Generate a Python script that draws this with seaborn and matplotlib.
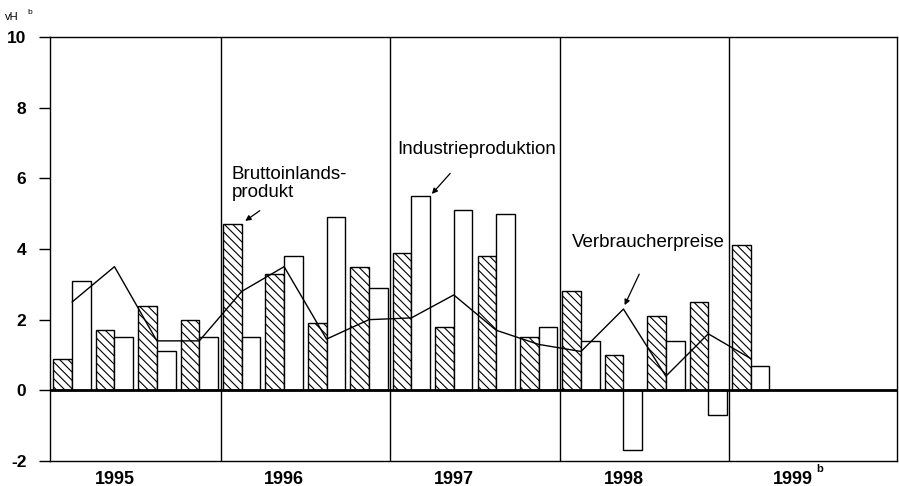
import numpy as np
import pandas as pd
import matplotlib
matplotlib.use("Agg")
import matplotlib.pyplot as plt
import matplotlib.transforms as mtrans
import seaborn as sns

# Quartale 1995 Q1 bis 1999 Q1, Veraenderung in vH
quartale = ["95Q1", "95Q2", "95Q3", "95Q4",
            "96Q1", "96Q2", "96Q3", "96Q4",
            "97Q1", "97Q2", "97Q3", "97Q4",
            "98Q1", "98Q2", "98Q3", "98Q4",
            "99Q1"]
bip = [0.9, 1.7, 2.4, 2.0, 4.7, 3.3, 1.9, 3.5, 3.9, 1.8, 3.8, 1.5, 2.8, 1.0, 2.1, 2.5, 4.1]
industrie = [3.1, 1.5, 1.1, 1.5, 1.5, 3.8, 4.9, 2.9, 5.5, 5.1, 5.0, 1.8, 1.4, -1.7, 1.4, -0.7, 0.7]
preise = [2.5, 3.5, 1.4, 1.4, 2.8, 3.5, 1.45, 2.0, 2.05, 2.7, 1.7, 1.3, 1.1, 2.3, 0.4, 1.6, 0.9]

jahre = ["1995", "1996", "1997", "1998", "1999"]
jahr_pos = [1, 5, 9, 13, 17]
jahr_grenzen = [3.5, 7.5, 11.5, 15.5]

sns.set_style("ticks")
plt.rcParams["font.family"] = ["Liberation Sans", "DejaVu Sans"]
plt.rcParams["hatch.linewidth"] = 0.8
plt.rcParams["axes.unicode_minus"] = False
plt.rcParams["text.color"] = "black"

df = pd.DataFrame({
    "q": list(range(len(quartale))) * 2,
    "wert": bip + industrie,
    "reihe": ["BIP"] * len(bip) + ["IP"] * len(industrie),
})

fig, ax = plt.subplots(figsize=(8.99, 4.86), dpi=100)
fig.subplots_adjust(left=50 / 899, right=897 / 899, top=1 - 37 / 486, bottom=1 - 461 / 486)

sns.barplot(data=df, x="q", y="wert", hue="reihe", width=0.88, dodge=True,
            palette={"BIP": "white", "IP": "white"}, edgecolor="black",
            linewidth=1.0, legend=False, ax=ax, errorbar=None)
for bar in ax.containers[0]:
    bar.set_hatch("\\\\\\\\")

# Verbraucherpreise als Linie (Punkte zwischen den Balken)
sns.lineplot(x=np.arange(len(preise)), y=preise, color="black", linewidth=1.0, ax=ax, zorder=4)

ax.axhline(0, color="black", linewidth=2.0, zorder=5)
for g in jahr_grenzen:
    ax.axvline(g, color="black", linewidth=1.0)

ax.set_xlim(-0.52, 19.45)
ax.set_ylim(-2, 10)
ax.set_yticks(range(-2, 11, 2))
ax.set_xticks(jahr_pos, jahre)
ax.tick_params(axis="x", length=0, pad=7, labelsize=13, labelcolor="black")
ax.tick_params(axis="y", length=8, width=1, pad=9, labelsize=12.5, labelcolor="black", color="black")
for lab in ax.get_xticklabels() + ax.get_yticklabels():
    lab.set_fontweight("bold")
ax.set_xlabel("")
ax.set_ylabel("")
for s in ax.spines.values():
    s.set_visible(True)
    s.set_linewidth(1.0)
    s.set_color("black")

# Fussnote "b" am Jahr 1999
trans = mtrans.blended_transform_factory(ax.transData, ax.transAxes)
ax.text(17.55, -0.018, "b", transform=trans, fontsize=8, fontweight="bold", ha="left", va="center")

pfeil = dict(arrowstyle="-|>", color="black", lw=0.9, mutation_scale=8)
ax.text(3.77, 5.85, "Bruttoinlands-\nprodukt", ha="left", va="center", fontsize=13.5, linespacing=1.05)
ax.annotate("", xy=(4.03, 4.75), xytext=(4.48, 5.13), arrowprops=pfeil)
ax.text(7.67, 6.82, "Industrieproduktion", ha="left", va="center", fontsize=13.5)
ax.annotate("", xy=(8.44, 5.5), xytext=(8.96, 6.2), arrowprops=pfeil)
ax.text(11.79, 4.18, "Verbraucherpreise", ha="left", va="center", fontsize=13.5)
ax.annotate("", xy=(13.0, 2.34), xytext=(13.4, 3.36), arrowprops=pfeil)

fig.text(5 / 899, 1 - 17 / 486, "vH", fontsize=8, ha="left", va="center")
fig.text(27 / 899, 1 - 12 / 486, "b", fontsize=6, ha="left", va="center")

plt.savefig("out.png", dpi=100)
